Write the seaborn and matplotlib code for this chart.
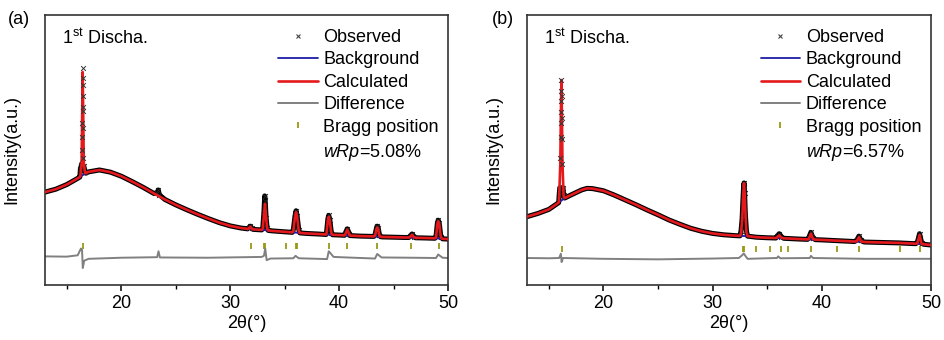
import numpy as np
import pandas as pd
import matplotlib
matplotlib.use("Agg")
import matplotlib.pyplot as plt
from matplotlib.lines import Line2D
import seaborn as sns

# ---------------- data (normalised intensity) ----------------
# panel (a)
bg_a_x = [13, 14, 15, 16, 16.2, 16.75, 17, 18, 19, 20, 21, 22, 23, 24, 25, 26, 27, 28, 29, 30,
          31, 31.6, 32.1, 32.9, 33.5, 34, 35, 35.7, 36.4, 37, 38, 38.8, 39.4, 40, 40.5, 41, 42,
          43, 43.2, 43.8, 44, 45, 46, 46.4, 47, 48, 48.8, 49.5, 50]
bg_a_y = [0.344, 0.355, 0.372, 0.395, 0.400, 0.414, 0.419, 0.426, 0.418, 0.403, 0.383, 0.362,
          0.339, 0.317, 0.297, 0.279, 0.262, 0.246, 0.231, 0.219, 0.211, 0.208, 0.206, 0.204,
          0.202, 0.200, 0.197, 0.195, 0.193, 0.191, 0.189, 0.187, 0.186, 0.185, 0.184, 0.183,
          0.181, 0.180, 0.180, 0.179, 0.178, 0.177, 0.176, 0.176, 0.175, 0.174, 0.173, 0.171, 0.170]
calc_pk_a_x = [16.25, 16.36, 16.42, 16.46, 16.5, 16.56, 16.68,
               31.7, 31.85, 32.0,
               33.0, 33.1, 33.2, 33.3, 33.4,
               35.8, 35.95, 36.05, 36.15, 36.3,
               38.85, 38.97, 39.05, 39.15, 39.3,
               40.55, 40.75, 40.95,
               43.3, 43.45, 43.5, 43.6, 43.7,
               46.5, 46.7, 46.9,
               48.9, 49.02, 49.1, 49.2, 49.35]
calc_pk_a_y = [0.405, 0.45, 0.66, 0.789, 0.66, 0.45, 0.415,
               0.209, 0.216, 0.208,
               0.21, 0.26, 0.30, 0.25, 0.208,
               0.20, 0.25, 0.27, 0.25, 0.20,
               0.192, 0.24, 0.253, 0.235, 0.19,
               0.186, 0.205, 0.186,
               0.183, 0.21, 0.213, 0.205, 0.182,
               0.177, 0.186, 0.176,
               0.176, 0.225, 0.236, 0.225, 0.175]
# observed: main reflection (drawn as single points) and the minor features
obs_main_a_x = [16.40, 16.43, 16.44, 16.45, 16.46, 16.47, 16.47, 16.48, 16.49, 16.5, 16.53]
obs_main_a_y = [0.50, 0.55, 0.60, 0.645, 0.70, 0.74, 0.805, 0.765, 0.66, 0.58, 0.47]
obs_pk_a_x = [16.25, 16.32, 16.38, 16.56, 16.68,
              23.3, 23.4, 23.5,
              31.7, 31.85, 32.0,
              33.0, 33.1, 33.17, 33.22, 33.3, 33.4,
              35.8, 35.95, 36.05, 36.15, 36.3,
              38.85, 38.97, 39.05, 39.15, 39.3,
              40.55, 40.75, 40.95,
              43.3, 43.45, 43.5, 43.6, 43.7,
              46.5, 46.7, 46.9,
              48.9, 49.02, 49.1, 49.2, 49.35]
obs_pk_a_y = [0.43, 0.44, 0.45, 0.44, 0.42,
              0.342, 0.352, 0.334,
              0.212, 0.218, 0.210,
              0.215, 0.27, 0.33, 0.31, 0.25, 0.21,
              0.205, 0.255, 0.275, 0.255, 0.205,
              0.195, 0.245, 0.258, 0.24, 0.192,
              0.19, 0.208, 0.19,
              0.186, 0.214, 0.218, 0.21, 0.186,
              0.18, 0.189, 0.179,
              0.18, 0.228, 0.24, 0.228, 0.178]
diff_a_x = [13, 15, 16.0, 16.3, 16.4, 16.47, 16.6, 17.0, 20, 23.3, 23.42, 23.55, 28, 32.9, 33.1,
            33.22, 33.35, 33.7, 35.8, 36.0, 36.3, 38.9, 39.05, 39.5, 40.7, 43.3, 43.5, 43.9,
            46.7, 48.9, 49.1, 49.5, 50]
diff_a_y = [0.106, 0.105, 0.11, 0.135, 0.13, 0.063, 0.09, 0.097, 0.101, 0.103, 0.125, 0.102,
            0.101, 0.104, 0.108, 0.135, 0.092, 0.098, 0.099, 0.108, 0.099, 0.096, 0.125, 0.104,
            0.102, 0.098, 0.115, 0.102, 0.101, 0.100, 0.113, 0.101, 0.100]
bragg_a = [16.51, 31.93, 33.09, 33.18, 35.17, 36.02, 36.18, 39.11, 40.73, 43.49, 46.64, 49.14]
bragg_level_a = 0.145

# panel (b)
bg_b_x = [13, 14, 15, 15.9, 16.45, 17, 18, 18.5, 19, 20, 21, 22, 23, 24, 25, 26, 27, 28, 29, 30,
          31, 32, 32.5, 33.2, 34, 35, 35.8, 36.5, 37, 38, 38.7, 39.4, 40, 41, 42, 43, 43.8,
          44, 45, 46, 47, 48, 48.6, 49.3, 50]
bg_b_y = [0.253, 0.265, 0.280, 0.305, 0.322, 0.333, 0.352, 0.358, 0.357, 0.349, 0.333, 0.315,
          0.297, 0.278, 0.260, 0.241, 0.225, 0.210, 0.199, 0.191, 0.186, 0.183, 0.182, 0.181,
          0.177, 0.175, 0.174, 0.173, 0.172, 0.170, 0.169, 0.168, 0.167, 0.165, 0.163, 0.161,
          0.160, 0.159, 0.158, 0.157, 0.156, 0.154, 0.153, 0.151, 0.148]
calc_pk_b_x = [15.95, 16.05, 16.1, 16.15, 16.2, 16.25, 16.35,
               32.6, 32.72, 32.8, 32.87, 32.95, 33.02, 33.1,
               35.9, 36.1, 36.3,
               38.8, 39.0, 39.2,
               43.2, 43.4, 43.6,
               48.75, 48.95, 49.15]
calc_pk_b_y = [0.33, 0.45, 0.62, 0.759, 0.62, 0.45, 0.33,
               0.19, 0.25, 0.33, 0.377, 0.33, 0.25, 0.195,
               0.176, 0.184, 0.175,
               0.170, 0.190, 0.170,
               0.162, 0.177, 0.161,
               0.154, 0.185, 0.152]
obs_main_b_x = [16.06, 16.09, 16.11, 16.12, 16.13, 16.14, 16.15, 16.16, 16.18, 16.2, 16.23]
obs_main_b_y = [0.47, 0.55, 0.60, 0.64, 0.68, 0.72, 0.76, 0.70, 0.62, 0.54, 0.45]
obs_pk_b_x = [15.95, 16.0, 16.3, 16.35,
              32.6, 32.7, 32.77, 32.83, 32.88, 32.93, 33.0, 33.1,
              35.9, 36.1, 36.3,
              38.8, 39.0, 39.2,
              43.2, 43.4, 43.6,
              48.75, 48.95, 49.15]
obs_pk_b_y = [0.335, 0.36, 0.36, 0.335,
              0.20, 0.245, 0.31, 0.36, 0.378, 0.34, 0.26, 0.20,
              0.18, 0.19, 0.179,
              0.175, 0.195, 0.174,
              0.166, 0.181, 0.165,
              0.158, 0.19, 0.156]
diff_b_x = [13, 15, 15.95, 16.1, 16.17, 16.3, 20, 25, 30, 32.4, 32.7, 32.85, 33.0, 33.2, 35.9,
            36.0, 36.2, 38.9, 39.0, 39.2, 44, 50]
diff_b_y = [0.100, 0.099, 0.100, 0.116, 0.085, 0.100, 0.097, 0.095, 0.098, 0.100, 0.110, 0.117,
            0.108, 0.097, 0.100, 0.106, 0.099, 0.100, 0.108, 0.100, 0.097, 0.097]
bragg_b = [16.19, 32.74, 32.87, 33.93, 35.30, 36.25, 36.92, 39.05, 41.43, 43.38, 47.13, 48.96]
bragg_level_b = 0.133

panel_labels = ["(a)", "(b)"]
cycle_label = "1$^{\\mathrm{st}}$ Discha."
wrp_labels = ["$\\mathit{wRp}$=5.08%", "$\\mathit{wRp}$=6.57%"]
legend_labels = ["Observed", "Background", "Calculated", "Difference", "Bragg position"]
xticks = [20, 30, 40, 50]

# ---------------- style ----------------
sns.set_style("ticks")
plt.rcParams["font.family"] = ["Liberation Sans", "DejaVu Sans"]
plt.rcParams["mathtext.fontset"] = "custom"
plt.rcParams["mathtext.rm"] = "Liberation Sans"
plt.rcParams["mathtext.it"] = "Liberation Sans:italic"
plt.rcParams["mathtext.bf"] = "Liberation Sans:bold"
plt.rcParams["text.color"] = "black"
plt.rcParams["axes.labelcolor"] = "black"
plt.rcParams["xtick.color"] = "black"
plt.rcParams["xtick.labelcolor"] = "black"

C_OBS = "black"
C_BG = "#1c1ca8"
C_CALC = "#e3191c"
C_DIFF = "#808080"
C_BRAGG = "#9a9a14"
FS = 13

fig = plt.figure(figsize=(9.44, 3.4), dpi=100)
ax_a = fig.add_axes([45 / 944, 55 / 340, 403 / 944, 270 / 340])
ax_b = fig.add_axes([527 / 944, 55 / 340, 404 / 944, 270 / 340])


def merged(x1, y1, x2, y2):
    x = np.concatenate([x1, x2])
    y = np.concatenate([y1, y2])
    o = np.argsort(x, kind="stable")
    return pd.DataFrame({"x": x[o], "y": y[o]})


def draw(ax, bgx, bgy, cpx, cpy, opx, opy, omx, omy, dx, dy, bragg, blevel, plabel, wrp,
         fig_lab_x, ylab_x):
    obs = merged(bgx, bgy, opx, opy)
    calc = merged(bgx, bgy, cpx, cpy)
    bg = pd.DataFrame({"x": bgx, "y": bgy})
    diff = pd.DataFrame({"x": dx, "y": dy})
    brg = pd.DataFrame({"x": bragg, "y": [blevel] * len(bragg)})
    omain = pd.DataFrame({"x": omx, "y": omy})
    opk = pd.DataFrame({"x": opx, "y": opy})

    sns.lineplot(data=obs, x="x", y="y", ax=ax, color=C_OBS, lw=3.6, sort=False, estimator=None)
    sns.scatterplot(data=opk, x="x", y="y", ax=ax, marker="x", s=12, color="#222222",
                    linewidth=0.7, zorder=3)
    sns.lineplot(data=bg, x="x", y="y", ax=ax, color=C_BG, lw=1.3, sort=False, estimator=None, zorder=4)
    sns.lineplot(data=calc, x="x", y="y", ax=ax, color=C_CALC, lw=1.9, sort=False, estimator=None, zorder=5)
    sns.scatterplot(data=omain, x="x", y="y", ax=ax, marker="x", s=12, color="#333333",
                    linewidth=0.7, zorder=6)
    sns.lineplot(data=diff, x="x", y="y", ax=ax, color=C_DIFF, lw=1.4, sort=False, estimator=None)
    sns.scatterplot(data=brg, x="x", y="y", ax=ax, marker="|", s=22, color=C_BRAGG, linewidth=1.3)

    ax.set_xlim(13, 50)
    ax.set_ylim(0, 1)
    ax.set_xticks(xticks)
    ax.set_xticks([15, 25, 35, 45], minor=True)
    ax.set_yticks([])
    ax.tick_params(axis="x", which="major", direction="out", length=4, width=1.1,
                   labelsize=FS, pad=3, colors="black")
    ax.tick_params(axis="x", which="minor", direction="out", length=3, width=1.0, colors="black")
    for sp in ax.spines.values():
        sp.set_color("#333333")
        sp.set_linewidth(1.2)
    ax.set_xlabel("2θ(°)", fontsize=FS, labelpad=2)
    ax.set_ylabel("Intensity(a.u.)", fontsize=FS)
    ax.yaxis.set_label_coords((ylab_x - ax.get_position().x0 * 944) / (ax.get_position().width * 944), 0.5)

    ax.text(0.043, 0.915, cycle_label, transform=ax.transAxes, fontsize=FS, va="center", ha="left")
    ax.text(0.69, 0.49, wrp, transform=ax.transAxes, fontsize=FS, va="center", ha="left")
    fig.text(fig_lab_x / 944, 1 - 20 / 340, plabel, fontsize=FS, va="center", ha="left")

    handles = [
        Line2D([], [], ls="", marker="x", ms=3.5, mew=0.8, color="#444444"),
        Line2D([], [], color=C_BG, lw=1.3),
        Line2D([], [], color=C_CALC, lw=1.9),
        Line2D([], [], color=C_DIFF, lw=1.4),
        Line2D([], [], ls="", marker="|", ms=5, mew=1.3, color=C_BRAGG),
    ]
    ax.legend(handles, legend_labels, loc="upper left", bbox_to_anchor=(0.578, 0.948),
              frameon=False, fontsize=FS, handlelength=2.2, handletextpad=0.3,
              labelspacing=0.3, borderpad=0, borderaxespad=0)


draw(ax_a, bg_a_x, bg_a_y, calc_pk_a_x, calc_pk_a_y, obs_pk_a_x, obs_pk_a_y,
     obs_main_a_x, obs_main_a_y, diff_a_x, diff_a_y, bragg_a, bragg_level_a,
     panel_labels[0], wrp_labels[0], 8, 20)
draw(ax_b, bg_b_x, bg_b_y, calc_pk_b_x, calc_pk_b_y, obs_pk_b_x, obs_pk_b_y,
     obs_main_b_x, obs_main_b_y, diff_b_x, diff_b_y, bragg_b, bragg_level_b,
     panel_labels[1], wrp_labels[1], 492, 502)

fig.savefig("out.png", dpi=100)
